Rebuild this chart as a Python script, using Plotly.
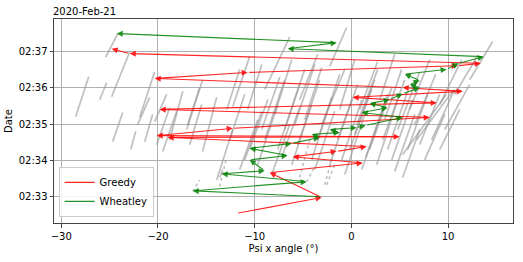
import plotly.graph_objects as go

DAY = "2020-02-21 "

# ---- Greedy path (psi deg, time) ----
greedy_psi = [-11.86, -3.07, -8.45, 1.17, -6.07, -1.52, 1.58, -18.99, 4.99, -20.13, -12.27,
              8.10, -19.82, 8.82, 0.13, 11.51, 5.30, -20.34, -10.72, 10.99, 13.37, -22.92, -24.79]
greedy_t = ["02:32:33", "02:32:59", "02:33:40", "02:33:56", "02:34:06", "02:34:15", "02:34:23",
            "02:34:38", "02:34:39", "02:34:41", "02:34:53", "02:35:11", "02:35:24", "02:35:35",
            "02:35:44", "02:35:54", "02:36:00", "02:36:15", "02:36:25", "02:36:36", "02:36:40",
            "02:36:56", "02:37:04"]

# ---- Wheatley path ----
wheat_psi = [-3.07, -16.41, -4.62, -13.41, -8.96, -10.52, -6.59, -10.52, -6.17, -3.28, -4.10,
             -1.21, -2.24, 0.55, 1.48, 5.30, 1.07, 3.75, 1.89, 3.96, 5.30, 7.06, 6.03, 7.06,
             5.51, 9.85, 11.09, 13.68, -6.59, -1.52, -24.27]
wheat_t = ["02:33:00", "02:33:10", "02:33:25", "02:33:38", "02:33:43", "02:34:01", "02:34:08",
           "02:34:20", "02:34:28", "02:34:38", "02:34:43", "02:34:46", "02:34:51", "02:34:54",
           "02:34:58", "02:35:11", "02:35:19", "02:35:27", "02:35:34", "02:35:40", "02:35:50",
           "02:36:00", "02:36:05", "02:36:12", "02:36:22", "02:36:30", "02:36:40", "02:36:51",
           "02:37:04", "02:37:14", "02:37:29"]

# ---- Scan traces (grey): start/end psi and time ----
scan_psi0 = [-25.41, -24.79, -28.51, -26.03, -21.89, -24.68, -22.10, -21.37, -20.34, -22.82,
             -20.13, -19.51, -18.79, -16.93, -16.72, -15.38, -17.03, -12.89, -12.27, -13.93,
             -13.62, -10.72, -8.96, -2.24, 12.23, 10.68, 9.65, 6.75, 5.30,
             -11.55, -10.52, -9.69, -8.96, -8.24, -7.62, -6.90, -6.17, -5.55, -4.83, -4.10,
             -3.48, -2.24, -1.42, -0.69, -0.18, 0.55, 1.07, 1.89, 2.62, 3.24, 4.17, 4.79,
             5.82, 6.55, 7.58, 8.30, 9.13, -5.35, -1.21, 2.93, 6.03, 9.13,
             -11.03, -9.27, -7.21, -5.86, -3.79, -3.07, -1.00, 0.34, 1.48, 3.75, 4.48, 7.06,
             5.30, -12.58, -7.93, 0.86, 3.44]
scan_psi1 = [-24.16, -22.92, -27.16, -25.30, -20.34, -23.65, -20.86, -20.55, -19.10, -22.30,
             -18.79, -18.06, -17.44, -15.69, -15.48, -13.93, -15.38, -11.55, -10.52, -12.27,
             -13.31, -9.27, -6.38, -0.49, 14.61, 12.96, 12.23, 10.47, 9.85,
             -9.69, -8.65, -7.62, -6.90, -6.38, -5.35, -4.83, -4.10, -3.28, -3.07, -2.04,
             -1.21, 0.03, 0.65, 1.38, 2.10, 2.72, 3.24, 4.17, 4.79, 5.51, 6.34, 7.06,
             7.89, 8.72, 9.65, 10.68, 11.20, -3.48, 0.34, 4.48, 8.10, 11.41,
             -9.27, -7.41, -5.35, -3.79, -1.73, -0.69, 1.07, 2.41, 3.75, 5.82, 6.55, 9.13,
             7.06, -11.03, -6.17, 2.72, 5.20]
scan_t0 = ["02:36:50", "02:35:45", "02:35:12", "02:35:40", "02:35:11", "02:34:31", "02:34:59",
           "02:34:31", "02:35:04", "02:34:18", "02:34:26", "02:34:15", "02:34:34", "02:34:59",
           "02:34:26", "02:34:15", "02:34:51", "02:35:24", "02:35:29", "02:33:28", "02:33:32",
           "02:35:24", "02:35:57", "02:36:35", "02:36:13", "02:35:49", "02:34:51", "02:34:34",
           "02:34:10",
           "02:33:45", "02:34:18", "02:33:53", "02:34:34", "02:33:37", "02:34:18", "02:34:51",
           "02:33:53", "02:34:26", "02:35:07", "02:34:01", "02:34:34", "02:33:53", "02:34:34",
           "02:33:37", "02:34:18", "02:34:59", "02:33:45", "02:34:18", "02:33:53", "02:34:34",
           "02:34:01", "02:34:51", "02:34:18", "02:34:59", "02:34:01", "02:34:34", "02:34:18",
           "02:35:40", "02:35:24", "02:35:40", "02:35:24", "02:35:32",
           "02:34:01", "02:34:51", "02:34:05", "02:34:59", "02:33:45", "02:34:59", "02:34:01",
           "02:34:43", "02:34:05", "02:34:18", "02:33:42", "02:34:26", "02:33:32", "02:34:34",
           "02:35:16", "02:35:24", "02:35:07"]
scan_t1 = ["02:37:29", "02:36:59", "02:36:18", "02:36:08", "02:36:26", "02:35:19", "02:35:44",
           "02:35:16", "02:35:49", "02:34:48", "02:35:27", "02:35:21", "02:35:54", "02:36:00",
           "02:35:32", "02:35:44", "02:36:13", "02:36:30", "02:36:51", "02:34:51", "02:33:45",
           "02:36:38", "02:37:23", "02:37:39", "02:37:16", "02:36:50", "02:36:05", "02:35:54",
           "02:35:49",
           "02:35:07", "02:35:40", "02:35:32", "02:36:13", "02:34:59", "02:36:05", "02:36:30",
           "02:35:32", "02:36:13", "02:36:33", "02:35:44", "02:36:22", "02:35:40", "02:36:05",
           "02:35:16", "02:35:57", "02:36:30", "02:35:24", "02:36:00", "02:35:40", "02:36:13",
           "02:35:40", "02:36:26", "02:35:49", "02:36:22", "02:35:16", "02:35:57", "02:35:24",
           "02:36:55", "02:36:46", "02:36:55", "02:36:46", "02:36:46",
           "02:35:21", "02:36:17", "02:35:27", "02:36:38", "02:35:21", "02:36:30", "02:35:40",
           "02:36:13", "02:35:49", "02:35:54", "02:35:16", "02:35:49", "02:34:51", "02:35:49",
           "02:36:46", "02:36:43", "02:36:30"]

# sparse (dotted) scan traces
sparse_psi0 = [-16.41, -5.35, -2.76, -4.62, -2.55, -13.62]
sparse_psi1 = [-15.69, -4.31, -1.73, -3.79, -1.73, -12.89]
sparse_t0 = ["02:33:09", "02:33:32", "02:33:20", "02:33:25", "02:33:20", "02:33:17"]
sparse_t1 = ["02:33:28", "02:34:34", "02:34:18", "02:33:50", "02:33:53", "02:34:06"]

x_ticks = [-30, -20, -10, 0, 10]
x_ticktext = ["\u221230", "\u221220", "\u221210", "0", "10"]
y_ticks = ["02:33", "02:34", "02:35", "02:36", "02:37"]

GREY = "rgba(150,150,150,0.6)"
RED = "rgba(255,0,0,0.85)"
GREEN = "rgba(0,128,0,0.85)"
FONT = "DejaVu Sans"


def seg_xy(p0, p1, t0, t1):
    xs, ys = [], []
    for a, b, c, d in zip(p0, p1, t0, t1):
        xs += [a, b, None]
        ys += [DAY + c, DAY + d, None]
    return xs, ys


fig = go.Figure()
gx, gy = seg_xy(scan_psi0, scan_psi1, scan_t0, scan_t1)
fig.add_trace(go.Scatter(x=gx, y=gy, mode="lines", line=dict(color=GREY, width=1.7),
                         showlegend=False, hoverinfo="skip"))
sx, sy = seg_xy(sparse_psi0, sparse_psi1, sparse_t0, sparse_t1)
fig.add_trace(go.Scatter(x=sx, y=sy, mode="lines", line=dict(color=GREY, width=1.6, dash="dot"),
                         showlegend=False, hoverinfo="skip"))

# legend entries
fig.add_trace(go.Scatter(x=[None], y=[None], mode="lines", line=dict(color=RED, width=1.2),
                         name="Greedy"))
fig.add_trace(go.Scatter(x=[None], y=[None], mode="lines", line=dict(color=GREEN, width=1.2),
                         name="Wheatley"))

annots = []
for psi, tt, col in ((greedy_psi, greedy_t, RED), (wheat_psi, wheat_t, GREEN)):
    for i in range(1, len(psi)):
        annots.append(dict(x=psi[i], y=DAY + tt[i], ax=psi[i - 1], ay=DAY + tt[i - 1],
                           xref="x", yref="y", axref="x", ayref="y", text="",
                           showarrow=True, arrowhead=2, arrowsize=1.1, arrowwidth=1.1,
                           arrowcolor=col, standoff=0))

annots.append(dict(x=0, y=1, xref="paper", yref="paper", xanchor="left", yanchor="bottom",
                   text="2020-Feb-21", showarrow=False, yshift=0, xshift=-3,
                   font=dict(family=FONT, size=10, color="black")))

fig.update_layout(
    width=523, height=262,
    margin=dict(l=54, r=10, t=19, b=39),
    paper_bgcolor="white", plot_bgcolor="white",
    font=dict(family=FONT, size=10, color="black"),
    annotations=annots,
    showlegend=True,
    legend=dict(x=0.01, y=0.03, xanchor="left", yanchor="bottom",
                bgcolor="rgba(255,255,255,0.85)", bordercolor="#cccccc", borderwidth=1,
                font=dict(family=FONT, size=10), itemwidth=30,
                tracegroupgap=0),
)
fig.update_xaxes(range=[-30.75, 16.71], tickvals=x_ticks, ticktext=x_ticktext,
                 automargin=False,
                 showgrid=True, gridcolor="#b0b0b0", gridwidth=1, zeroline=False,
                 showline=True, linecolor="#444444", linewidth=1, mirror=True,
                 ticks="outside", ticklen=3.5, tickcolor="#444444",
                 title=dict(text="Psi x angle (°)", font=dict(family=FONT, size=10), standoff=4))
fig.update_yaxes(type="date", range=[DAY + "02:32:17", DAY + "02:37:53"],
                 tickvals=[DAY + t for t in y_ticks], ticktext=y_ticks,
                 automargin=False,
                 showgrid=True, gridcolor="#b0b0b0", gridwidth=1, zeroline=False,
                 showline=True, linecolor="#444444", linewidth=1, mirror=True,
                 ticks="outside", ticklen=3.5, tickcolor="#444444",
                 title=dict(text="Date", font=dict(family=FONT, size=10), standoff=4))

fig.write_html("out.html", config={"displayModeBar": False},
               post_script="document.body.style.margin='0';")
